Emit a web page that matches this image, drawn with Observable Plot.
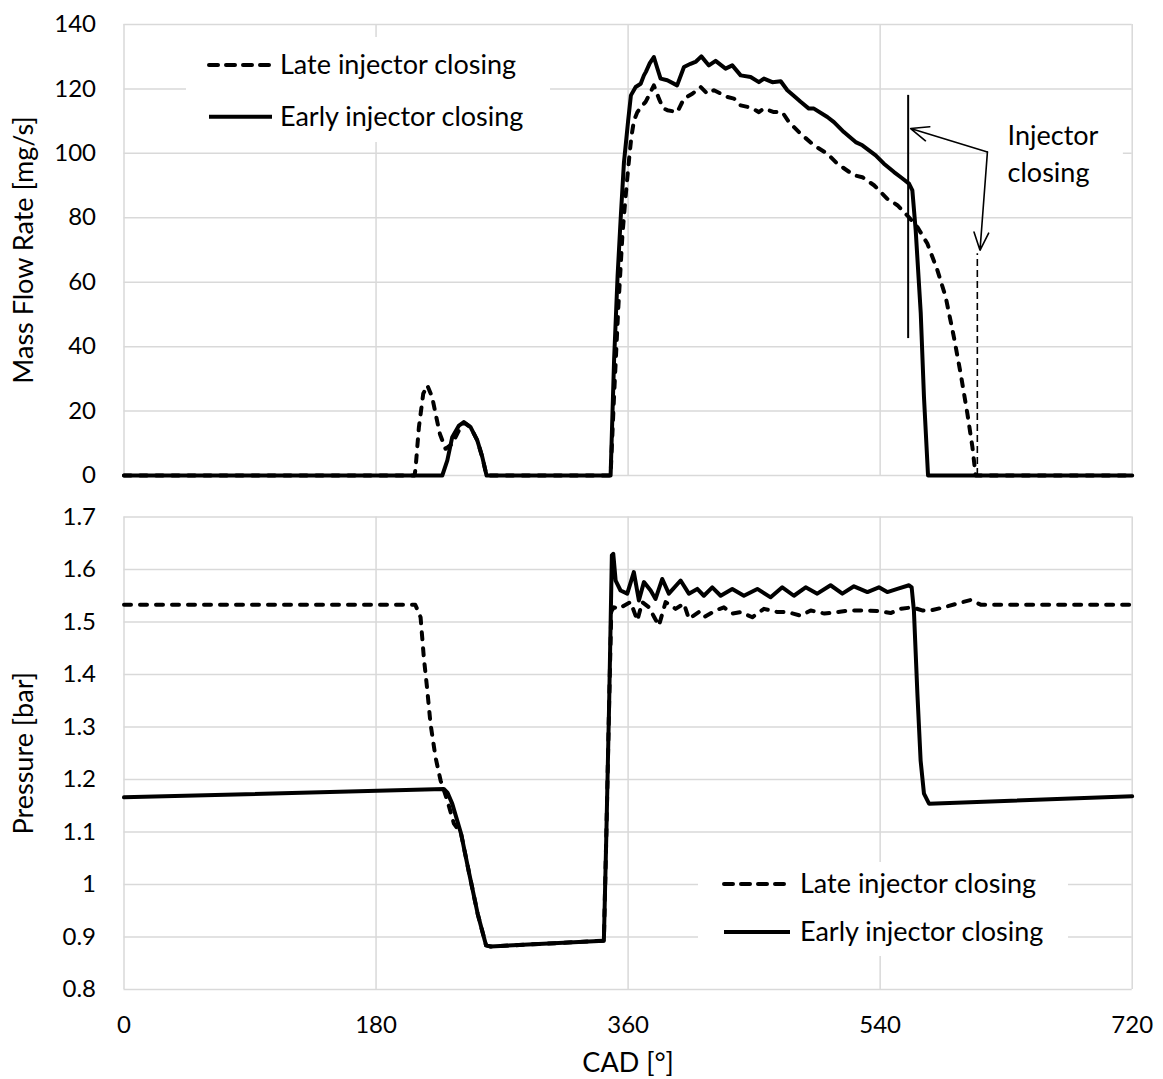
<!DOCTYPE html>
<html>
<head>
<meta charset="utf-8">
<script src="https://cdn.jsdelivr.net/npm/d3@7"></script>
<script src="https://cdn.jsdelivr.net/npm/@observablehq/plot@0.6"></script>
<style>
  body { margin: 0; background: #fff; }
  #chart { position: relative; width: 1163px; height: 1079px; font-family: Lato, "Open Sans", sans-serif; }
  #chart svg { position: absolute; left: 0; }
  .legend { position: absolute; background: #fff; }
</style>
</head>
<body>
<div id="chart"></div>
<script>
// ---------------- data ----------------
const xTicks = [0, 180, 360, 540, 720];
const flowTicks = [0, 20, 40, 60, 80, 100, 120, 140];
const presTicks = [0.8, 0.9, 1.0, 1.1, 1.2, 1.3, 1.4, 1.5, 1.6, 1.7];
const seriesNames = ["Late injector closing", "Early injector closing"];

// Mass flow rate [mg/s] vs CAD [°]  ([CAD, value])
const lateFlow = [[0,0],[207.5,0],[208.2,2.1],[210.6,15],[213.7,25.4],[216.6,28],[220.1,24.3],[222.5,19.2],[225.6,12.9],[229.6,8.3],[234.4,9.8],[239.2,14],[242.7,16.4],[247.5,15],[252.3,10.9],[255.9,5.7],[258.9,0],[347.5,0],[350,25],[353,52],[356,75],[358.5,88],[360.6,97.8],[362.3,105],[364.2,110.2],[366.6,112.8],[369.5,114.5],[372.5,116],[375.5,118.5],[378.4,121.1],[382,117],[385,114],[388,113.4],[395.1,112.8],[399.9,117],[405.9,118.5],[411.8,120.6],[416.6,118.5],[421.3,119.6],[430.9,117.5],[435.6,117],[440.4,114.9],[447.5,114.2],[453.4,112.8],[457,113.9],[464.1,112.8],[470.1,112.8],[474.9,109.7],[483.2,106.1],[492.7,102.5],[502.3,99.9],[509.4,96.8],[521.3,93.2],[527.3,92.6],[535.6,90.1],[545.1,85.9],[552.3,83.9],[559.4,80.7],[566.6,77.1],[573.7,72],[580.9,63.7],[586.8,55.4],[592.7,42.9],[597.5,31.6],[602.3,19.2],[605.9,8.8],[608.2,0],[720,0]];
const earlyFlow = [[0,0],[227.3,0],[230.9,4.7],[234.4,11.9],[239.2,15.5],[242.7,16.6],[247.5,15],[252.3,10.9],[255.9,5.7],[258.9,0],[347.5,0],[350,36],[352.5,62],[354.6,79],[357,97],[360,110],[362,118],[365.4,120.6],[369,121.6],[371.3,124.2],[372.7,125.3],[375.5,128],[378.4,129.9],[380.8,126.5],[383.2,123.2],[388,122.7],[395,121.1],[399.9,126.8],[404.6,127.8],[408.5,128.5],[412.3,130.1],[417.7,127.3],[422.5,128.7],[429.6,126.3],[434.4,127.3],[440.4,124.2],[447.5,123.7],[453.4,122.1],[457,123.2],[463,122.1],[469,122.4],[473.7,119.6],[478.5,117.8],[483.2,116],[489.1,113.9],[492.7,113.9],[502.3,111.3],[507,109.7],[514.1,106.6],[522.5,103.5],[527.3,102.5],[536.8,99.4],[542.7,96.8],[549.9,94.2],[555,92.5],[560.6,90.6],[563,88.5],[565.4,76],[569,50.3],[571.3,24.3],[574.2,0],[720,0]];

// Pressure [bar] vs CAD [°]
const latePres = [[0,1.533],[208,1.533],[211.8,1.509],[214.1,1.433],[216.6,1.37],[218.9,1.306],[222.5,1.242],[226.1,1.198],[230.9,1.16],[235.6,1.116],[240.7,1.097],[246.6,1.02],[252.6,0.944],[258.6,0.884],[261.8,0.882],[342.7,0.893],[344.5,1.1],[346.5,1.35],[348,1.52],[349.9,1.528],[353.4,1.525],[357,1.531],[361.8,1.538],[366.6,1.503],[370.1,1.538],[374.9,1.528],[378.5,1.51],[382,1.493],[386.8,1.538],[393.9,1.525],[399.9,1.535],[403.4,1.506],[410.6,1.519],[414.1,1.509],[422.5,1.522],[428.4,1.528],[434.4,1.516],[440.4,1.519],[448.7,1.509],[457,1.525],[466.6,1.519],[473.7,1.519],[483.2,1.512],[490.4,1.522],[500.2,1.516],[509.4,1.519],[518.9,1.522],[528.4,1.522],[538,1.521],[547.5,1.517],[554.6,1.525],[563,1.528],[570,1.522],[576.1,1.522],[585.6,1.528],[595,1.535],[604.6,1.542],[611.8,1.533],[720,1.533]];
const earlyPres = [[0,1.166],[228.4,1.182],[231,1.175],[234.4,1.154],[240.7,1.097],[246.6,1.02],[252.6,0.944],[258.6,0.884],[261.8,0.882],[342.7,0.893],[344.5,1.1],[346.5,1.35],[347.9,1.554],[348.4,1.627],[349.4,1.63],[351.1,1.579],[354.6,1.56],[359.4,1.554],[364.1,1.595],[367.7,1.541],[371.3,1.576],[376.1,1.56],[379.6,1.544],[384.4,1.582],[389.1,1.554],[397.5,1.579],[403.4,1.554],[409.4,1.563],[414.1,1.55],[420.1,1.566],[426.1,1.55],[434.4,1.563],[442.7,1.55],[452.3,1.563],[461.8,1.547],[470.1,1.566],[478.4,1.55],[486.8,1.566],[495.1,1.554],[504.6,1.57],[513,1.554],[521.3,1.568],[530.9,1.557],[539.1,1.566],[545.1,1.557],[552.3,1.563],[560.6,1.57],[562.5,1.566],[564.1,1.522],[566.6,1.363],[568.9,1.236],[571.3,1.173],[574.9,1.154],[720,1.168]];

// annotation (data units of the upper panel)
const closeEarlyMark = [{x: 560, y1: 42.5, y2: 118}];
const closeLateMark = [{x: 609.4, y1: 0, y2: 68.8}];
const arrows = [{x1: 616.6, y1: 100.4, x2: 561.8, y2: 107.7}, {x1: 616.6, y1: 100.4, x2: 611.3, y2: 69.9}];
const noteText = [{x: 631, y: 100.5, text: "Injector\nclosing"}];
const noteBox = [{x1: 617, x2: 713.7, y1: 84, y2: 115}];

// ---------------- drawing ----------------
(function () {
const FONT = "Lato, 'Open Sans', sans-serif";
const TICK_FS = 24, TEXT_FS = 27;
const GRID = {stroke: "#d9d9d9", strokeOpacity: 1, strokeWidth: 1.5};
const W = 1163, ML = 123.5, MR = 31.3;
const dashed = {stroke: "black", strokeWidth: 4, strokeDasharray: "7,9", strokeLinecap: "round", strokeLinejoin: "round"};
const solid = {stroke: "black", strokeWidth: 4, strokeLinejoin: "round"};
const px = d => d[0], py = d => d[1];

const chart = document.getElementById("chart");

const topPlot = Plot.plot({
  width: W, height: 480,
  marginLeft: ML, marginRight: MR, marginTop: 24, marginBottom: 5,
  style: {fontFamily: FONT, fontSize: TICK_FS + "px", color: "black", background: "transparent", overflow: "visible"},
  x: {domain: [0, 720], axis: null},
  y: {domain: [0, 140], axis: null},
  marks: [
    Plot.gridX(xTicks, GRID),
    Plot.gridY(flowTicks, GRID),
    Plot.rect(noteBox, {x1: "x1", x2: "x2", y1: "y1", y2: "y2", fill: "white"}),
    Plot.ruleX(closeLateMark, {x: "x", y1: "y1", y2: "y2", stroke: "black", strokeWidth: 1.6, strokeDasharray: "7,4"}),
    Plot.line(lateFlow, {x: px, y: py, ...dashed}),
    Plot.line(earlyFlow, {x: px, y: py, ...solid}),
    Plot.ruleX(closeEarlyMark, {x: "x", y1: "y1", y2: "y2", stroke: "black", strokeWidth: 2}),
    Plot.arrow(arrows, {x1: "x1", y1: "y1", x2: "x2", y2: "y2", bend: 0, headLength: 18, headAngle: 45, strokeWidth: 1.6, stroke: "black"}),
    Plot.text(noteText, {x: "x", y: "y", text: "text", textAnchor: "start", lineHeight: 1.38, fontSize: TEXT_FS, fill: "black"}),
    Plot.axisY(flowTicks, {tickSize: 0, tickPadding: 28, label: null, fontSize: TICK_FS}),
    Plot.text(["Mass Flow Rate [mg/s]"], {frameAnchor: "left", dx: -100, rotate: -90, textAnchor: "middle", lineAnchor: "middle", fontSize: TEXT_FS, fill: "black"})
  ]
});
topPlot.style.top = "0px";
chart.appendChild(topPlot);

const bottomPlot = Plot.plot({
  width: W, height: 599,
  marginLeft: ML, marginRight: MR, marginTop: 36.5, marginBottom: 90,
  style: {fontFamily: FONT, fontSize: TICK_FS + "px", color: "black", background: "transparent", overflow: "visible"},
  x: {domain: [0, 720], axis: null},
  y: {domain: [0.8, 1.7], axis: null},
  marks: [
    Plot.gridX(xTicks, GRID),
    Plot.gridY(presTicks, GRID),
    Plot.line(latePres, {x: px, y: py, ...dashed}),
    Plot.line(earlyPres, {x: px, y: py, ...solid}),
    Plot.axisY(presTicks, {tickSize: 0, tickPadding: 28, label: null, fontSize: TICK_FS, tickFormat: d => String(+d.toFixed(1))}),
    Plot.axisX(xTicks, {tickSize: 0, tickPadding: 26, label: null, fontSize: TICK_FS}),
    Plot.text(["Pressure [bar]"], {frameAnchor: "left", dx: -100, rotate: -90, textAnchor: "middle", lineAnchor: "middle", fontSize: TEXT_FS, fill: "black"}),
    Plot.text(["CAD [°]"], {frameAnchor: "bottom", dy: 74, textAnchor: "middle", lineAnchor: "middle", fontSize: TEXT_FS, fill: "black"})
  ]
});
bottomPlot.style.top = "480px";
chart.appendChild(bottomPlot);

// legends (overlaid boxes, like the spreadsheet originals)
function legend(left, topPx, w, h, rowY, x0, x1, tx) {
  const div = document.createElement("div");
  div.className = "legend";
  Object.assign(div.style, {left: left + "px", top: topPx + "px", width: w + "px", height: h + "px"});
  const svg = d3.create("svg").attr("width", w).attr("height", h).style("position", "absolute").style("left", "0px").style("top", "0px");
  seriesNames.forEach((name, i) => {
    const y = rowY[i];
    svg.append("line").attr("x1", x0).attr("x2", x1).attr("y1", y).attr("y2", y)
      .attr("stroke", "black").attr("stroke-width", 4)
      .attr("stroke-dasharray", i === 0 ? "9,8" : null)
      .attr("stroke-linecap", i === 0 ? "round" : "butt");
    svg.append("text").attr("x", tx).attr("y", y).attr("dy", "0.35em")
      .attr("font-family", FONT).attr("font-size", TEXT_FS).attr("fill", "black").text(name);
  });
  div.appendChild(svg.node());
  chart.appendChild(div);
}
legend(186, 37, 364, 105, [28, 79.7], 23, 86, 94);
legend(698, 862, 370, 94, [22, 70], 26, 92, 102);
})();
</script>
</body>
</html>
